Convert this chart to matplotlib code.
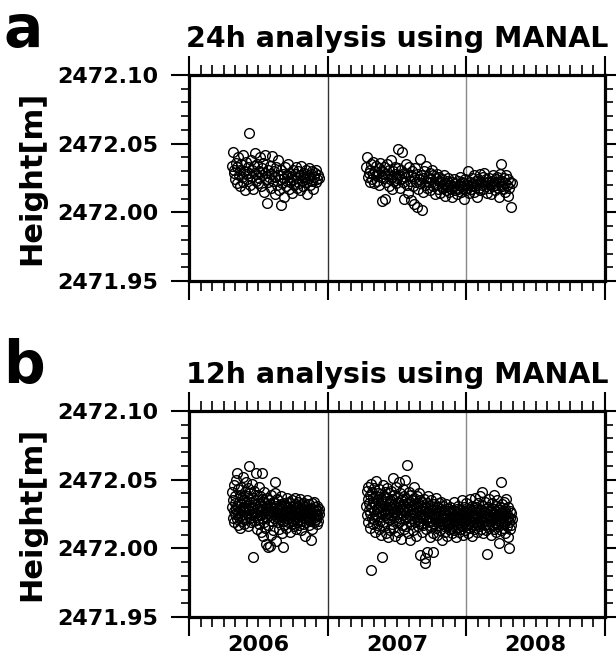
import numpy as np
import matplotlib
matplotlib.use("Agg")
import matplotlib.pyplot as plt
from matplotlib.ticker import MultipleLocator, FormatStrFormatter, FuncFormatter

# station height offsets in mm above 2472.000 m
BASE_M = 2472.0

# 24h solutions, one value every 2 days
STEP_24H = 2.0
START_A1, START_A2 = 2006.31, 2007.28
A1_MM = [
    34, 44, 29, 31, 24, 36, 21, 33, 40, 27,
    19, 31, 35, 26, 42, 22, 30, 16, 37, 28,
    24, 33, 58, 29, 20, 38, 26, 31, 17, 34,
    43, 23, 28, 35, 21, 30, 25, 40, 19, 32,
    27, 36, 15, 29, 42, 24, 7, 31, 22, 26,
    34, 18, 28, 41, 23, 30, 13, 26, 33, 20,
    27, 38, 16, 24, 5, 31, 21, 28, 11, 25,
    33, 19, 27, 23, 35, 17, 29, 22, 26, 14,
    31, 24, 20, 28, 33, 18, 25, 30, 21, 27,
    16, 34, 23, 26, 19, 29, 24, 31, 22, 13,
    27, 25, 32, 20, 28, 23, 30, 17, 26, 29,
    22, 31, 24, 27, 25,
]
A2_MM = [
    33, 40, 26, 29, 22, 31, 35, 24, 28, 37,
    21, 30, 27, 34, 23, 29, 32, 20, 36, 26,
    8, 30, 25, 33, 10, 28, 22, 35, 27, 19,
    31, 24, 38, 26, 17, 30, 23, 33, 28, 21,
    25, 32, 46, 27, 18, 31, 24, 44, 22, 29,
    10, 26, 35, 20, 28, 14, 33, 23, 9, 27,
    30, 19, 25, 6, 32, 22, 4, 28, 17, 24,
    39, 21, 27, 2, 25, 15, 30, 20, 34, 23,
    18, 26, 22, 29, 16, 24, 31, 19, 27, 21,
    13, 25, 20, 28, 17, 23, 26, 14, 22, 19,
    24, 18, 27, 12, 21, 16, 23, 19, 25, 15,
    20, 17, 22, 11, 19, 24, 16, 21, 18, 13,
    23, 17, 20, 26, 15, 19, 22, 18, 10, 21,
    24, 16, 20, 18, 30, 14, 22, 19, 17, 25,
    21, 15, 27, 19, 23, 11, 20, 24, 18, 28,
    16, 22, 20, 26, 17, 29, 21, 19, 24, 14,
    22, 18, 25, 20, 13, 23, 27, 19, 21, 16,
    24, 20, 26, 18, 11, 22, 28, 35, 19, 23,
    17, 25, 21, 15, 27, 20, 12, 24, 18, 22,
    4, 21,
]

# 12h solutions, one value per day
STEP_12H = 1.0
START_B1, START_B2 = 2006.31, 2007.28
B1_MM = [
    30, 41, 22, 35, 27, 46, 19, 33, 38, 25,
    29, 50, 21, 55, 31, 17, 43, 26, 34, 23,
    39, 28, 15, 32, 45, 24, 37, 20, 30, 52,
    27, 35, 18, 41, 29, 23, 48, 33, 21, 38,
    26, 31, 44, 16, 60, 28, 36, 22, 40, 25,
    34, 19, 47, 30, 24, -6, 37, 27, 42, 20,
    32, 26, 55, 23, 35, 14, 29, 39, 21, 33,
    27, 45, 18, 31, 24, 38, 12, 28, 36, 22,
    55, 9, 34, 25, 41, 19, 27, 33, 15, 29,
    3, 37, 23, 31, 26, 1, 17, 28, 35, 2,
    32, 24, 10, 30, 39, 20, 27, 34, 13, 25,
    29, 22, 40, 48, 33, 26, 5, 31, 23, 36,
    19, 28, 35, 24, 30, 14, 27, 21, 38, 25,
    32, 11, 29, 23, 1, 20, 26, 33, 17, 28,
    24, 31, 15, 27, 37, 22, 30, 19, 26, 34,
    21, 29, 12, 25, 33, 23, 28, 18, 35, 26,
    20, 31, 24, 16, 29, 37, 22, 27, 14, 32,
    25, 19, 30, 23, 34, 26, 17, 28, 21, 36,
    24, 29, 13, 27, 32, 20, 25, 31, 18, 26,
    33, 22, 28, 9, 30, 24, 19, 35, 26, 21,
    29, 23, 32, 17, 27, 25, 20, 6, 24, 28,
    14, 26, 33, 22, 29, 19, 27, 34, 23, 30,
    21, 28, 25, 18, 31, 24, 27, 20, 29, 25,
]
B2_MM = [
    31, 42, 24, 36, 19, 45, 28, 33, 15, 39,
    26, 47, -16, 30, 22, 41, 34, 18, 37, 27,
    44, 21, 32, 12, 38, 25, 49, 29, 17, 35,
    23, 40, 30, 14, 43, 27, 20, 36, 31, 10,
    -6, 33, 25, 46, 19, 38, 28, 16, 41, 24,
    34, 11, 29, 44, 22, 37, 26, 8, 32, 40,
    21, 35, 27, 13, 42, 30, 18, 36, 24, 51,
    29, 15, 39, 23, 33, 9, 27, 45, 20, 31,
    37, 25, 12, 34, 28, 48, 19, 30, 22, 40,
    26, 7, 35, 29, 17, 43, 24, 32, 14, 38,
    27, 21, 50, 30, 16, 36, 61, 23, 33, 11,
    28, 41, 20, 34, 25, 6, 31, 39, 18, 27,
    35, 22, 29, 13, 37, 24, 45, 19, 32, 26,
    9, 30, 21, 38, 27, 16, 33, 23, 40, 20,
    -5, 28, 35, 18, 31, 25, 12, 34, 22, 29,
    17, 36, 24, -7, 30, -11, 21, 27, 14, 33,
    -3, 26, 20, 38, 23, 29, 8, 31, 19, 25,
    35, 16, 28, 22, 11, 30, -3, 24, 32, 18,
    26, 21, 37, 15, 28, 23, 10, 30, 19, 25,
    33, 17, 27, 20, 13, 29, 24, 34, 18, 22,
    6, 26, 31, 16, 23, 28, 19, 12, 25, 21,
    32, 17, 24, 9, 27, 20, 29, 14, 22, 26,
    18, 30, 15, 23, 11, 25, 19, 28, 16, 21,
    34, 13, 24, 20, 27, 8, 22, 18, 29, 15,
    23, 19, 31, 12, 26, 21, 17, 28, 14, 24,
    20, 35, 16, 25, 22, 10, 27, 19, 30, 23,
    13, 26, 21, 33, 17, 28, 24, 11, 22, 29,
    18, 25, 36, 15, 23, 20, 27, 9, 24, 31,
    19, 26, 14, 28, 22, 37, 17, 25, 21, 30,
    12, 24, 29, 18, 33, 23, 16, 27, 20, 38,
    25, 14, 28, 41, 22, 19, 31, 24, 11, 27,
    20, 34, 17, 26, 23, 13, 29, 21, -4, 25,
    30, 18, 24, 36, 15, 27, 22, 10, 28, 20,
    33, 17, 25, 21, 29, 14, 26, 39, 19, 23,
    27, 12, 31, 22, 18, 35, 24, 16, 4, 28,
    20, 30, 25, 13, 48, 23, 19, 32, 26, 15,
    22, 34, 18, 27, 11, 24, 29, 20, 36, 16,
    25, 21, 30, 8, 23, 19, 0, 27, 14, 22,
    26, 17, 21,
]

PANELS = [
    ("a", "24h analysis using MANAL", STEP_24H, [(START_A1, A1_MM), (START_A2, A2_MM)]),
    ("b", "12h analysis using MANAL", STEP_12H, [(START_B1, B1_MM), (START_B2, B2_MM)]),
]
YEARS = [2006, 2007, 2008]

W, H = 616, 666
fig = plt.figure(figsize=(W / 100, H / 100), dpi=100)

# axes boxes in pixels: left, top, right, bottom
boxes = [(189, 75, 605, 281), (189, 411, 605, 617)]


def year_label(v, pos):
    yr = int(np.floor(v + 1e-9))
    if abs(v - yr - 0.5) < 1e-6 and yr in YEARS:
        return str(yr)
    return ""


for i, (letter, title, step, series) in enumerate(PANELS):
    l, t, r, b = boxes[i]
    ax = fig.add_axes([l / W, 1 - b / H, (r - l) / W, (b - t) / H])

    for start, mm in series:
        mm = np.asarray(mm, dtype=float)
        x = start + np.arange(len(mm)) * step / 365.25
        ax.plot(x, BASE_M + mm / 1000.0, ls="none", marker="o", ms=7.0,
                mfc="none", mec="black", mew=1.0)

    ax.axvline(2007, color="#333333", lw=1.0, zorder=0)
    ax.axvline(2008, color="#888888", lw=1.0, zorder=0)

    ax.set_xlim(2006, 2009)
    ax.set_ylim(2471.95, 2472.10)
    ax.xaxis.set_major_locator(MultipleLocator(1))
    ax.xaxis.set_minor_locator(MultipleLocator(1 / 12))
    ax.yaxis.set_major_locator(MultipleLocator(0.05))
    ax.yaxis.set_minor_locator(MultipleLocator(0.01))
    ax.yaxis.set_major_formatter(FormatStrFormatter("%.2f"))
    ax.xaxis.set_major_formatter(FuncFormatter(lambda v, p: ""))
    if i == 1:
        ax.xaxis.set_minor_formatter(FuncFormatter(year_label))
    else:
        ax.xaxis.set_minor_formatter(FuncFormatter(lambda v, p: ""))

    ax.tick_params(axis="x", which="major", direction="out", length=14, width=1.5,
                   top=True, bottom=True)
    ax.tick_params(axis="x", which="minor", direction="out", length=7, width=1.2,
                   top=True, bottom=True, labelsize=16, pad=6)
    ax.tick_params(axis="y", which="major", direction="out", length=13, width=1.5,
                   left=True, right=True, labelsize=16, pad=9)
    ax.tick_params(axis="y", which="minor", direction="out", length=6, width=1.2,
                   left=True, right=True)
    for lab in ax.get_xticklabels(minor=True) + ax.get_yticklabels():
        lab.set_fontweight("bold")
    for sp in ax.spines.values():
        sp.set_linewidth(2.3)

    # panel letter, title and axis label
    fig.text(3 / W, 1 - (t - 28) / H, letter, fontsize=42, fontweight="bold",
             ha="left", va="baseline")
    fig.text((l + r) / 2 / W, 1 - (t - 28) / H, title, fontsize=20.5, fontweight="bold",
             ha="center", va="baseline")
    fig.text(32 / W, 1 - (t + b) / 2 / H, "Height[m]", fontsize=22, fontweight="bold",
             rotation=90, ha="center", va="center")

fig.savefig("out.png", dpi=100)
